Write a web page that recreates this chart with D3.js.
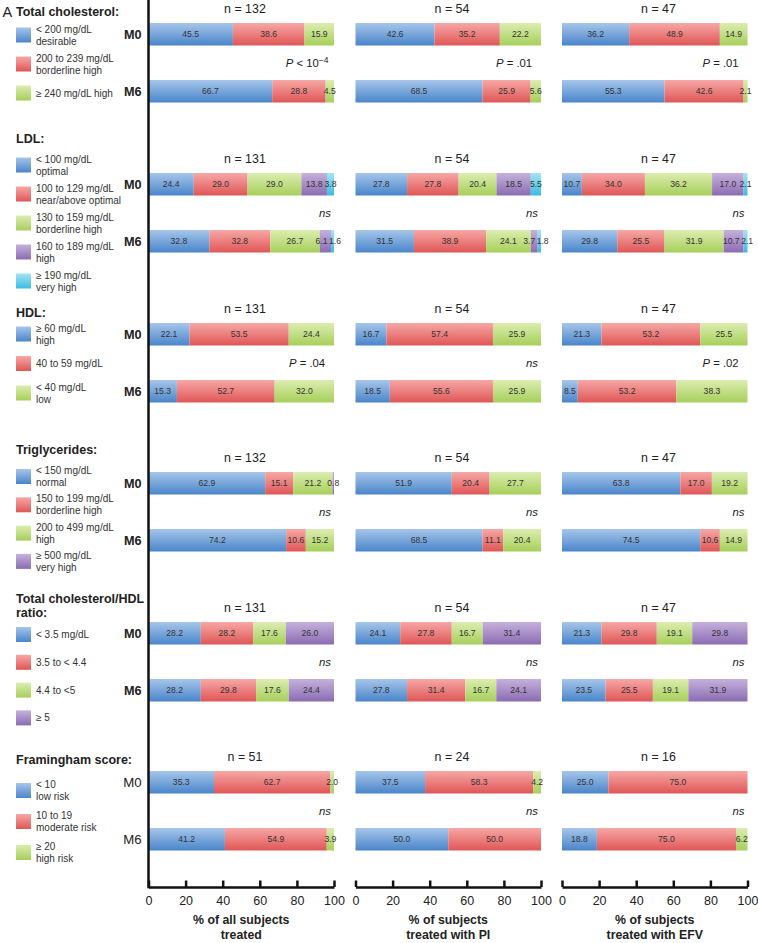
<!DOCTYPE html>
<html><head><meta charset="utf-8">
<script src="https://cdn.jsdelivr.net/npm/d3@7"></script>
<style>
body{margin:0;background:#fff}
text{font-family:"Liberation Sans",Arial,sans-serif;fill:#222}
</style>
</head><body>
<svg id="chart" width="758" height="943"></svg>
<script>
// ---------- DATA ----------
const groups = ["all", "PI", "EFV"];
const axisTitles = [["% of all subjects", "treated"], ["% of subjects", "treated with PI"], ["% of subjects", "treated with EFV"]];
const tickValues = [0, 20, 40, 60, 80, 100];
const timepoints = ["M0", "M6"];

const tcTitle = ["Total cholesterol:"];
const tcLegend = [["< 200 mg/dL", "desirable"], ["200 to 239 mg/dL", "borderline high"], ["\u2265 240 mg/dL high"]];
const tcN = [132, 54, 47];
const tcM0 = [[45.5, 38.6, 15.9], [42.6, 35.2, 22.2], [36.2, 48.9, 14.9]];
const tcM6 = [[66.7, 28.8, 4.5], [68.5, 25.9, 5.6], [55.3, 42.6, 2.1]];
const tcP = ["P < 10^\u22124", "P = .01", "P = .01"];

const ldlTitle = ["LDL:"];
const ldlLegend = [["< 100 mg/dL", "optimal"], ["100 to 129 mg/dL", "near/above optimal"], ["130 to 159 mg/dL", "borderline high"], ["160 to 189 mg/dL", "high"], ["\u2265 190 mg/dL", "very high"]];
const ldlN = [131, 54, 47];
const ldlM0 = [[24.4, 29.0, 29.0, 13.8, 3.8], [27.8, 27.8, 20.4, 18.5, 5.5], [10.7, 34.0, 36.2, 17.0, 2.1]];
const ldlM6 = [[32.8, 32.8, 26.7, 6.1, 1.6], [31.5, 38.9, 24.1, 3.7, 1.8], [29.8, 25.5, 31.9, 10.7, 2.1]];
const ldlP = ["ns", "ns", "ns"];

const hdlTitle = ["HDL:"];
const hdlLegend = [["\u2265 60 mg/dL", "high"], ["40 to 59 mg/dL"], ["< 40 mg/dL", "low"]];
const hdlN = [131, 54, 47];
const hdlM0 = [[22.1, 53.5, 24.4], [16.7, 57.4, 25.9], [21.3, 53.2, 25.5]];
const hdlM6 = [[15.3, 52.7, 32.0], [18.5, 55.6, 25.9], [8.5, 53.2, 38.3]];
const hdlP = ["P = .04", "ns", "P = .02"];

const tgTitle = ["Triglycerides:"];
const tgLegend = [["< 150 mg/dL", "normal"], ["150 to 199 mg/dL", "borderline high"], ["200 to 499 mg/dL", "high"], ["\u2265 500 mg/dL", "very high"]];
const tgN = [132, 54, 47];
const tgM0 = [[62.9, 15.1, 21.2, 0.8], [51.9, 20.4, 27.7, 0], [63.8, 17.0, 19.2, 0]];
const tgM6 = [[74.2, 10.6, 15.2, 0], [68.5, 11.1, 20.4, 0], [74.5, 10.6, 14.9, 0]];
const tgP = ["ns", "ns", "ns"];

const ratioTitle = ["Total cholesterol/HDL", "ratio:"];
const ratioLegend = [["< 3.5 mg/dL"], ["3.5 to < 4.4"], ["4.4 to <5"], ["\u2265 5"]];
const ratioN = [131, 54, 47];
const ratioM0 = [[28.2, 28.2, 17.6, 26.0], [24.1, 27.8, 16.7, 31.4], [21.3, 29.8, 19.1, 29.8]];
const ratioM6 = [[28.2, 29.8, 17.6, 24.4], [27.8, 31.4, 16.7, 24.1], [23.5, 25.5, 19.1, 31.9]];
const ratioP = ["ns", "ns", "ns"];

const framTitle = ["Framingham score:"];
const framLegend = [["< 10", "low risk"], ["10 to 19", "moderate risk"], ["\u2265 20", "high risk"]];
const framN = [51, 24, 16];
const framM0 = [[35.3, 62.7, 2.0], [37.5, 58.3, 4.2], [25.0, 75.0, 0]];
const framM6 = [[41.2, 54.9, 3.9], [50.0, 50.0, 0], [18.8, 75.0, 6.2]];
const framP = ["ns", "ns", "ns"];

const sections = [
  {title: tcTitle, legend: tcLegend, n: tcN, m0: tcM0, m6: tcM6, p: tcP},
  {title: ldlTitle, legend: ldlLegend, n: ldlN, m0: ldlM0, m6: ldlM6, p: ldlP},
  {title: hdlTitle, legend: hdlLegend, n: hdlN, m0: hdlM0, m6: hdlM6, p: hdlP},
  {title: tgTitle, legend: tgLegend, n: tgN, m0: tgM0, m6: tgM6, p: tgP},
  {title: ratioTitle, legend: ratioLegend, n: ratioN, m0: ratioM0, m6: ratioM6, p: ratioP},
  {title: framTitle, legend: framLegend, n: framN, m0: framM0, m6: framM6, p: framP}
];

// ---------- LAYOUT ----------
const barTop = [23, 173, 323, 472, 622, 771];
const legendTitleY = [12, 139, 313, 450, 599, 760];
const legendFirst = [35, 165, 334, 476.5, 634.5, 790.5];
const legendPitch = [29, 29, 29.5, 28.3, 27.8, 31];
const barH = 22.5, rowGap = 57;
const panelX = [148.5, 355.5, 562];
const panelW = 185.5;
const axisY = 887;

const colors = [
  ["#a6c6ea", "#4a85ca"],
  ["#f6a8a6", "#df5656"],
  ["#dcedb0", "#a6cf5a"],
  ["#c5b1dc", "#8b6cb2"],
  ["#a3e4f5", "#3bbce2"]
];

const svg = d3.select("#chart");
const defs = svg.append("defs");
colors.forEach((c, i) => {
  const g = defs.append("linearGradient").attr("id", "g" + i)
    .attr("x1", 0).attr("y1", 0).attr("x2", 0).attr("y2", 1);
  g.append("stop").attr("offset", "0%").attr("stop-color", c[0]);
  g.append("stop").attr("offset", "100%").attr("stop-color", c[1]);
});

const xs = panelX.map(x0 => d3.scaleLinear().domain([0, 100]).range([x0, x0 + panelW]));

svg.append("text").attr("x", 2.5).attr("y", 12).attr("dy", "0.35em")
  .style("font-size", "14.5px").text("A");

function pLabel(sel, label) {
  if (label === "ns") {
    sel.append("tspan").style("font-style", "italic").text("ns");
    return;
  }
  sel.append("tspan").style("font-style", "italic").text(label[0]);
  const parts = label.slice(1).split("^");
  sel.append("tspan").text(parts[0]);
  if (parts[1]) {
    sel.append("tspan").attr("dy", "-0.45em").style("font-size", "8.5px").text(parts[1]);
  }
}

sections.forEach((s, si) => {
  s.title.forEach((t, li) => {
    svg.append("text").attr("x", 16).attr("y", legendTitleY[si] + li * 14).attr("dy", "0.35em")
      .style("font-size", "12.5px").style("font-weight", "bold").text(t);
  });
  s.legend.forEach((lines, li) => {
    const cy = legendFirst[si] + li * legendPitch[si];
    svg.append("rect").attr("x", 16).attr("y", cy - 7.5).attr("width", 15).attr("height", 15)
      .attr("fill", `url(#g${li})`);
    lines.forEach((ln, k) => {
      const off = lines.length === 1 ? 0 : (k === 0 ? -6 : 6);
      svg.append("text").attr("x", 36).attr("y", cy + off).attr("dy", "0.35em")
        .style("font-size", "10px").style("fill", "#333").text(ln);
    });
  });
  const isFram = si === 5;
  [s.m0, s.m6].forEach((rows, ti) => {
    const y = barTop[si] + ti * rowGap;
    svg.append("text").attr("x", 141.5).attr("y", y + barH / 2).attr("dy", "0.35em")
      .attr("text-anchor", "end")
      .style("font-size", isFram ? "13.2px" : "12.7px")
      .style("font-weight", isFram ? "normal" : "bold")
      .text(timepoints[ti]);
  });
  groups.forEach((g, gi) => {
    const x = xs[gi];
    svg.append("text").attr("x", x(52)).attr("y", barTop[si] - 14).attr("dy", "0.35em")
      .attr("text-anchor", "middle").style("font-size", "12.4px").text("n = " + s.n[gi]);
    [s.m0[gi], s.m6[gi]].forEach((vals, ti) => {
      const y = barTop[si] + ti * rowGap;
      let cum = 0;
      const segs = vals.map((v, k) => { const a = cum; cum += v; return {a, b: cum, v, k}; })
        .filter(d => d.v > 0);
      const gr = svg.append("g");
      gr.selectAll("rect").data(segs).join("rect")
        .attr("x", d => x(d.a)).attr("y", y)
        .attr("width", d => x(d.b) - x(d.a)).attr("height", barH)
        .attr("fill", d => `url(#g${d.k})`);
      const labels = gr.selectAll("text").data(segs).join("text")
        .attr("x", d => (x(d.a) + x(d.b)) / 2).attr("y", y + barH / 2).attr("dy", "0.35em")
        .attr("text-anchor", "middle").style("font-size", "8.6px").style("fill", "#333")
        .text(d => d.v.toFixed(1));
      // separate overlapping neighbour labels
      const nodes = labels.nodes();
      for (let i = 1; i < nodes.length; i++) {
        const pa = nodes[i - 1], pb = nodes[i];
        const wa = pa.getComputedTextLength(), wb = pb.getComputedTextLength();
        const ca = +pa.getAttribute("x"), cb = +pb.getAttribute("x");
        const overlap = (ca + wa / 2) - (cb - wb / 2) + 1.5;
        if (overlap > 0) {
          pa.setAttribute("x", ca - overlap * 0.6);
          pb.setAttribute("x", cb + overlap * 0.4);
        }
      }
    });
    const py = barTop[si] + barH + (rowGap - barH) / 2;
    const lab = s.p[gi];
    const t = svg.append("text").attr("y", py).attr("dy", "0.35em").style("font-size", "11.3px");
    if (lab === "ns") t.attr("x", x(100) - 3).attr("text-anchor", "end");
    else t.attr("x", x(85.5)).attr("text-anchor", "middle");
    pLabel(t, lab);
  });
});

xs.forEach((x, gi) => {
  const ax = svg.append("g").attr("transform", `translate(0,${axisY})`)
    .call(d3.axisBottom(x).tickValues(tickValues).tickSizeInner(-6.5).tickSizeOuter(0).tickPadding(9));
  ax.select(".domain").attr("stroke", "#111").attr("stroke-width", 2.5);
  ax.selectAll(".tick line").attr("stroke", "#111").attr("stroke-width", 2.5);
  ax.selectAll(".tick text").style("font-size", "12.5px").style("fill", "#222")
    .style("font-family", '"Liberation Sans",Arial,sans-serif');
  axisTitles[gi].forEach((t, k) => {
    svg.append("text").attr("x", x(50)).attr("y", 920 + k * 14.5).attr("dy", "0.35em")
      .attr("text-anchor", "middle").style("font-size", "12.3px").style("font-weight", "bold").text(t);
  });
});
svg.append("line").attr("x1", panelX[0]).attr("x2", panelX[0]).attr("y1", 0).attr("y2", axisY + 1.25)
  .attr("stroke", "#111").attr("stroke-width", 2.5);
</script>
</body></html>
